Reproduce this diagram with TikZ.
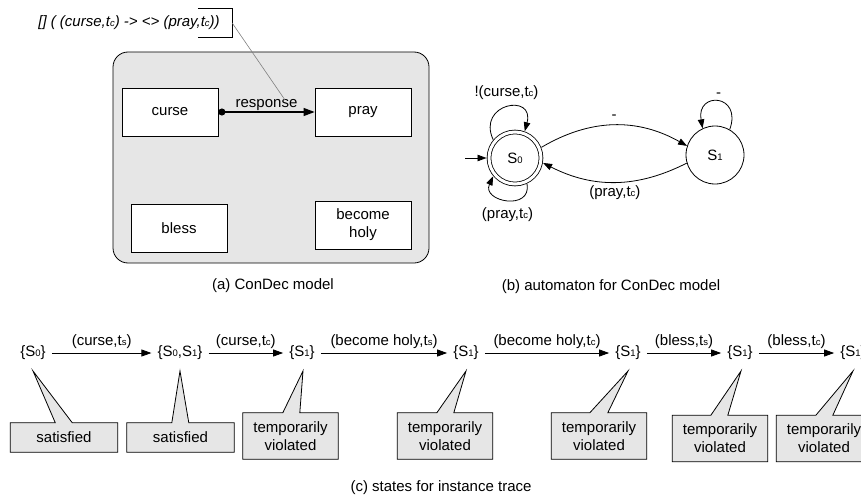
\documentclass[tikz,border=0pt]{standalone}
\usepackage{fontspec}
\setmainfont{Liberation Sans}
\usepackage{tikz}
\usetikzlibrary{arrows.meta,positioning,calc,backgrounds}
\definecolor{modelgray}{HTML}{E6E6E6}
\definecolor{leadgray}{HTML}{808080}
\newcommand{\sm}[1]{{\fontsize{9.5}{10}\selectfont #1}}
% callout: box node, pointer base (from west), pointer base, tip
\newcommand{\callout}[4]{%
  \draw[callshape] (#1.north west) -- ($(#1.north west)+(#2,0)$) -- (#4)
    -- ($(#1.north west)+(#3,0)$) -- (#1.north east) -- (#1.south east)
    -- (#1.south west) -- cycle;}

\begin{document}
\begin{tikzpicture}[x=1pt, y=1pt,
  font=\fontsize{15}{18}\selectfont,
  task/.style={draw, fill=white, line width=0.8pt, minimum width=96pt,
               minimum height=48pt, align=center, inner sep=0pt},
  state/.style={circle, draw, line width=0.8pt, inner sep=0pt},
  trstate/.style={inner xsep=6pt, inner ysep=2pt},
  callbox/.style={minimum width=107pt, minimum height=29pt, inner sep=0pt, align=center},
  tallbox/.style={minimum width=95pt, minimum height=46pt, inner sep=0pt, align=center},
  callshape/.style={draw, fill=modelgray, line width=0.8pt},
  resparr/.style={{Circle[length=7pt]}-{Triangle[length=11pt,width=8pt]}, line width=1.2pt},
  aarr/.style={-{Triangle[length=9pt,width=6.5pt]}, line width=0.8pt},
  tarr/.style={-{Triangle[length=10pt,width=7pt]}, line width=0.8pt},
  leader/.style={draw=leadgray, line width=0.6pt}
]
  \useasboundingbox (0,0) rectangle (861,499);

  % (a) ConDec model
  \node[draw, fill=modelgray, rounded corners=15pt, line width=0.8pt,
        minimum width=316pt, minimum height=211pt] (model) at (271,341.5) {};
  \node[task] (curse) at (170,387) {curse};
  \node[task] (pray) at (363,387) {pray};
  \node[task] (bless) at (179,271) {bless};
  \node[task] (holy) at (363,274) {become\\holy};
  \draw[resparr] (curse) -- node[above, inner sep=1pt] (resp) {response} (pray);

  \node[font=\fontsize{15}{18}\selectfont\itshape] (ltl) at (129,476)
    {[] ( (curse,t\sm{c}) -> <> (pray,t\sm{c}))};
  \node[minimum width=34pt, minimum height=28pt, inner sep=0pt] (note) at (215,476) {};
  \draw[line width=0.6pt] (note.north west) -- (note.north east)
    -- (note.south east) -- (note.south west);
  \coordinate (respend) at (285,399);
  \draw[leader] (note.east) -- (respend);

  \node (capa) at (273,213) {(a) ConDec model};

  % (b) automaton
  \node[state, double, double distance=3pt, outer sep=2.5pt, minimum size=52pt]
    (s0) at (515,341) {S\sm{0}};
  \node[state, minimum size=58pt] (s1) at (715,344) {S\sm{1}};
  \coordinate (init) at (465,341);
  \draw[aarr] (init) -- (s0);
  \draw[aarr] (s0.140) .. controls +(115:40) and +(75:40) ..
    node[above=4pt] {!(curse,t\sm{c})} (s0.70);
  \draw[aarr] (s0.-65) .. controls +(-80:28) and +(-115:28) ..
    node[below=4pt] {(pray,t\sm{c})} (s0.-140);
  \draw[aarr] (s1.60) .. controls +(70:38) and +(100:38) ..
    node[above] {-} (s1.115);
  \draw[aarr] (s0.22) to[bend left=30] node[above=2pt] {-} (s1.162);
  \draw[aarr] (s1.196) to[bend left=27] node[below] {(pray,t\sm{c})} (s0.-10);

  \node (capb) at (611,212) {(b) automaton for ConDec model};

  % (c) states for instance trace
  \node[trstate] (t1) at (33,146) {\{S\sm{0}\}};
  \node[trstate] (t2) at (180,146) {\{S\sm{0},S\sm{1}\}};
  \node[trstate] (t3) at (302,146) {\{S\sm{1}\}};
  \node[trstate] (t4) at (466,146) {\{S\sm{1}\}};
  \node[trstate] (t5) at (628,146) {\{S\sm{1}\}};
  \node[trstate] (t6) at (740,146) {\{S\sm{1}\}};
  \node[trstate] (t7) at (853,146) {\{S\sm{1}\}};

  \draw[tarr] (t1) -- node[above=1pt] {(curse,t\sm{s})} (t2);
  \draw[tarr] (t2) -- node[above=1pt] {(curse,t\sm{c})} (t3);
  \draw[tarr] (t3) -- node[above=1pt] {(become holy,t\sm{s})} (t4);
  \draw[tarr] (t4) -- node[above=1pt] {(become holy,t\sm{c})} (t5);
  \draw[tarr] (t5) -- node[above=1pt] {(bless,t\sm{s})} (t6);
  \draw[tarr] (t6) -- node[above=1pt] {(bless,t\sm{c})} (t7);

  \node[callbox] (c1) at (64,61.5) {satisfied};
  \node[callbox] (c2) at (180.5,61.5) {satisfied};
  \node[tallbox] (c3) at (290.5,63) {temporarily\\violated};
  \node[tallbox] (c4) at (445,63) {temporarily\\violated};
  \node[tallbox] (c5) at (599,63) {temporarily\\violated};
  \node[tallbox] (c6) at (720,60.5) {temporarily\\violated};
  \node[tallbox] (c7) at (824,60.5) {temporarily\\violated};

  \begin{scope}[on background layer]
    \callout{c1}{45}{62}{$(t1)+(0,-18)$}
    \callout{c2}{45}{62}{$(t2)+(0,-18)$}
    \callout{c3}{40}{57}{$(t3)+(1,-18)$}
    \callout{c4}{39.5}{56.5}{$(t4)+(0,-18)$}
    \callout{c5}{38.5}{56.5}{$(t5)+(0,-18)$}
    \callout{c6}{38.5}{55.5}{$(t6)+(1,-18)$}
    \callout{c7}{39.5}{56.5}{$(t7)+(0,-18)$}
  \end{scope}

  \node (capc) at (441,11) {(c) states for instance trace};
\end{tikzpicture}
\end{document}
